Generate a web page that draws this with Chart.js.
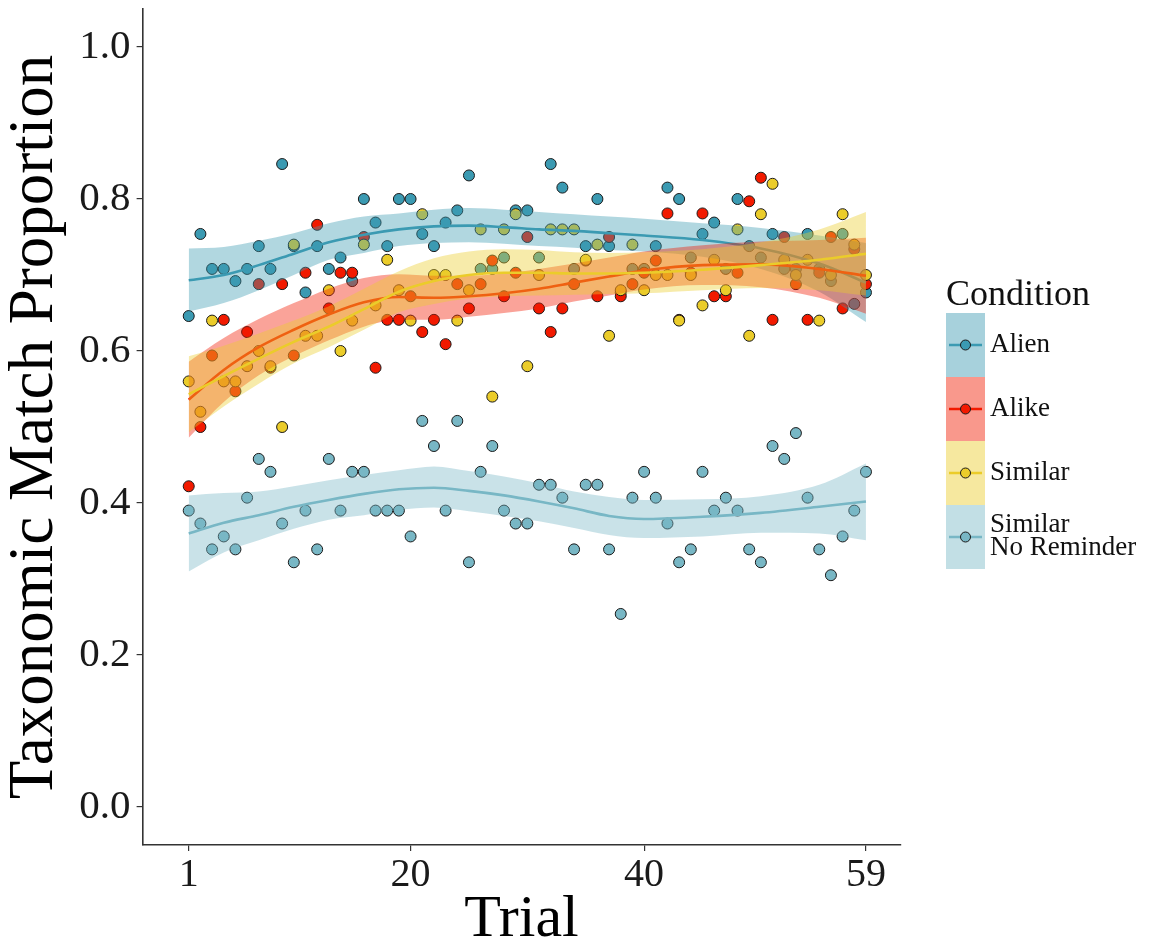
<!DOCTYPE html>
<html>
<head>
<meta charset="utf-8">
<script src="https://cdn.jsdelivr.net/npm/chart.js@4.4.1/dist/chart.umd.min.js"></script>
<style>
  html, body { margin: 0; padding: 0; background: #fff; }
</style>
</head>
<body>
<canvas id="chart" width="1156" height="942"></canvas>
<script>
// ---- data ----
const trials = [1,2,3,4,5,6,7,8,9,10,11,12,13,14,15,16,17,18,19,20,
  21,22,23,24,25,26,27,28,29,30,31,32,33,34,35,36,37,38,39,40,
  41,42,43,44,45,46,47,48,49,50,51,52,53,54,55,56,57,58,59];

const alien = [0.646,0.754,0.708,0.708,0.692,0.708,0.738,0.708,0.846,0.738,
  0.677,0.738,0.708,0.723,0.692,0.800,0.769,0.738,0.800,0.800,
  0.754,0.738,0.769,0.785,0.831,0.708,0.708,0.723,0.785,0.785,
  0.723,0.846,0.815,0.708,0.738,0.800,0.738,0.677,0.708,0.708,
  0.738,0.815,0.800,0.723,0.754,0.769,0.708,0.800,0.738,0.723,
  0.754,0.708,0.708,0.754,0.708,0.692,0.754,0.662,0.677];

const alike = [0.422,0.500,0.594,0.641,0.547,0.625,0.688,0.578,0.688,0.594,
  0.703,0.766,0.656,0.703,0.703,0.750,0.578,0.641,0.641,0.672,
  0.625,0.641,0.609,0.688,0.656,0.688,0.719,0.672,0.703,0.750,
  0.656,0.625,0.656,0.688,0.719,0.672,0.750,0.672,0.688,0.703,
  0.719,0.781,0.641,0.703,0.781,0.672,0.672,0.703,0.797,0.828,
  0.641,0.750,0.688,0.641,0.703,0.750,0.656,0.734,0.688];

const similar = [0.56,0.52,0.64,0.56,0.56,0.58,0.60,0.58,0.50,0.74,
  0.62,0.62,0.68,0.60,0.64,0.74,0.66,0.72,0.68,0.64,
  0.78,0.70,0.70,0.64,0.68,0.76,0.54,0.76,0.78,0.58,
  0.70,0.76,0.76,0.76,0.72,0.74,0.62,0.68,0.74,0.68,
  0.70,0.70,0.64,0.70,0.66,0.72,0.68,0.76,0.62,0.78,
  0.82,0.72,0.70,0.72,0.64,0.70,0.78,0.74,0.70];

const similarNoReminder = [0.390,0.373,0.339,0.356,0.339,0.407,0.458,0.441,0.373,0.322,
  0.390,0.339,0.458,0.390,0.441,0.441,0.390,0.390,0.390,0.356,
  0.508,0.475,0.390,0.508,0.322,0.441,0.475,0.390,0.373,0.373,
  0.424,0.424,0.407,0.339,0.424,0.424,0.339,0.254,0.407,0.441,
  0.407,0.373,0.322,0.339,0.441,0.390,0.407,0.390,0.339,0.322,
  0.475,0.458,0.492,0.407,0.339,0.305,0.356,0.390,0.441];

// loess fits and their confidence bands, read at these trials
const fitTrials = [1,4,7,10,13,16,19,22,25,28,31,34,37,40,45,50,55,59];

const alienFit = [0.693,0.700,0.713,0.728,0.743,0.753,0.760,0.764,0.765,0.763,0.760,0.758,0.755,0.752,0.746,0.735,0.715,0.690];
const alienHi  = [0.735,0.737,0.745,0.755,0.768,0.777,0.781,0.786,0.788,0.786,0.783,0.780,0.777,0.774,0.768,0.762,0.752,0.742];
const alienLo  = [0.652,0.663,0.680,0.700,0.720,0.729,0.738,0.742,0.743,0.741,0.738,0.736,0.733,0.731,0.724,0.708,0.678,0.638];

const alikeFit = [0.536,0.575,0.605,0.628,0.648,0.664,0.671,0.670,0.672,0.676,0.682,0.690,0.698,0.706,0.713,0.714,0.708,0.699];
const alikeHi  = [0.586,0.617,0.642,0.663,0.682,0.696,0.701,0.699,0.699,0.702,0.708,0.715,0.723,0.731,0.739,0.744,0.746,0.749];
const alikeLo  = [0.486,0.533,0.568,0.593,0.614,0.632,0.641,0.641,0.645,0.650,0.656,0.665,0.673,0.681,0.687,0.684,0.670,0.649];

const similarFit = [0.543,0.567,0.590,0.612,0.632,0.655,0.678,0.692,0.700,0.703,0.703,0.702,0.702,0.703,0.707,0.713,0.720,0.728];
const similarHi  = [0.593,0.607,0.623,0.640,0.659,0.682,0.705,0.722,0.731,0.734,0.733,0.730,0.729,0.730,0.734,0.743,0.760,0.783];
const similarLo  = [0.493,0.527,0.557,0.584,0.605,0.628,0.651,0.662,0.669,0.672,0.673,0.674,0.675,0.676,0.680,0.683,0.680,0.673];

const snrFit = [0.360,0.374,0.384,0.395,0.404,0.412,0.418,0.420,0.416,0.410,0.402,0.393,0.383,0.379,0.382,0.387,0.395,0.402];
const snrHi  = [0.410,0.413,0.415,0.422,0.430,0.437,0.443,0.448,0.442,0.435,0.426,0.415,0.408,0.404,0.405,0.409,0.424,0.452];
const snrLo  = [0.310,0.335,0.351,0.366,0.378,0.384,0.391,0.394,0.389,0.383,0.376,0.367,0.358,0.354,0.356,0.361,0.360,0.351];

const xTicks = [1, 20, 40, 59];
const yTicks = [0, 0.2, 0.4, 0.6, 0.8, 1.0];

const conditions = ['Alien', 'Alike', 'Similar', 'Similar\nNo Reminder'];
const colors = ['#3B9AB2', '#F21A00', '#EBCC2A', '#78B7C5'];

// ---- helpers ----
const serif = "'Liberation Serif', 'DejaVu Serif', serif";

function rgba(hex, a) {
    const n = parseInt(hex.slice(1), 16);
    return `rgba(${(n >> 16) & 255},${(n >> 8) & 255},${n & 255},${a})`;
}

function pts(xs, ys) {
    return xs.map((x, i) => ({ x: x, y: ys[i] }));
}

const rawSeries = [alien, alike, similar, similarNoReminder];
const fits = [
    { fit: alienFit, lo: alienLo, hi: alienHi },
    { fit: alikeFit, lo: alikeLo, hi: alikeHi },
    { fit: similarFit, lo: similarLo, hi: similarHi },
    { fit: snrFit, lo: snrLo, hi: snrHi }
];

// ---- datasets: points at the bottom, then ribbon + line per condition ----
const datasets = [];

rawSeries.forEach((vals, i) => {
    datasets.push({
        label: conditions[i],
        data: pts(trials, vals),
        showLine: false,
        pointRadius: 5.5,
        pointBackgroundColor: colors[i],
        pointBorderColor: '#1a1a1a',
        pointBorderWidth: 1,
        order: 40 - i
    });
});

fits.forEach((f, i) => {
    const base = 30 - i * 3;
    const smooth = { tension: 0.4, cubicInterpolationMode: 'monotone', pointRadius: 0 };
    // lower bound (invisible)
    datasets.push(Object.assign({
        data: pts(fitTrials, f.lo),
        borderWidth: 0,
        borderColor: 'rgba(0,0,0,0)',
        fill: false,
        order: base
    }, smooth));
    // upper bound, filled down to the lower bound
    datasets.push(Object.assign({
        data: pts(fitTrials, f.hi),
        borderWidth: 0,
        borderColor: 'rgba(0,0,0,0)',
        backgroundColor: rgba(colors[i], 0.4),
        fill: '-1',
        order: base - 1
    }, smooth));
    // fitted line
    datasets.push(Object.assign({
        data: pts(fitTrials, f.fit),
        borderColor: colors[i],
        borderWidth: 2.6,
        fill: false,
        order: base - 2
    }, smooth));
});

// ---- legend drawn like the ggplot key ----
const conditionLegend = {
    id: 'conditionLegend',
    afterDraw(chart) {
        const ctx = chart.ctx;
        ctx.save();
        ctx.fillStyle = '#111';
        ctx.font = `36px ${serif}`;
        ctx.textBaseline = 'alphabetic';
        ctx.textAlign = 'left';
        ctx.fillText('Condition', 946, 305);

        conditions.forEach((name, i) => {
            const top = 313 + i * 64;
            const cy = top + 32;
            ctx.fillStyle = rgba(colors[i], 0.45);
            ctx.fillRect(946, top, 39, 64);

            ctx.strokeStyle = colors[i];
            ctx.lineWidth = 2.6;
            ctx.beginPath();
            ctx.moveTo(949, cy);
            ctx.lineTo(982, cy);
            ctx.stroke();

            ctx.beginPath();
            ctx.arc(965.5, cy, 5, 0, Math.PI * 2);
            ctx.fillStyle = colors[i];
            ctx.fill();
            ctx.lineWidth = 1;
            ctx.strokeStyle = '#1a1a1a';
            ctx.stroke();

            ctx.fillStyle = '#111';
            ctx.font = `27px ${serif}`;
            ctx.textBaseline = 'middle';
            const lines = name.split('\n');
            if (lines.length === 1) {
                ctx.fillText(lines[0], 990, cy);
            } else {
                ctx.fillText(lines[0], 990, cy - 12);
                ctx.fillText(lines[1], 990, cy + 11);
            }
        });
        ctx.restore();
    }
};

// ---- chart ----
new Chart(document.getElementById('chart'), {
    type: 'line',
    data: { datasets: datasets },
    options: {
        responsive: false,
        devicePixelRatio: 1,
        animation: false,
        events: [],
        layout: { padding: { left: 0, right: 255.6, top: 9, bottom: 0 } },
        plugins: {
            legend: { display: false },
            tooltip: { enabled: false },
            filler: { drawTime: 'beforeDatasetDraw' }
        },
        scales: {
            x: {
                type: 'linear',
                min: -2.95,
                max: 61.95,
                afterBuildTicks: s => { s.ticks = xTicks.map(v => ({ value: v })); },
                afterFit: s => {
                    s.height = 97;
                    s.paddingLeft = 0;
                    s.paddingRight = 0;
                },
                grid: { display: true, drawOnChartArea: false, drawTicks: true, tickLength: 6, color: '#333', lineWidth: 1.2 },
                border: { display: true, color: '#333', width: 1.6 },
                ticks: {
                    font: { family: serif, size: 40 },
                    color: '#1a1a1a',
                    padding: 0,
                    maxRotation: 0,
                    autoSkip: false,
                    callback: v => String(v)
                },
                title: {
                    display: true,
                    text: 'Trial',
                    color: '#000',
                    font: { family: serif, size: 60, lineHeight: 0.72 },
                    padding: 0
                }
            },
            y: {
                type: 'linear',
                min: -0.05,
                max: 1.05,
                afterBuildTicks: s => { s.ticks = yTicks.map(v => ({ value: v })); },
                afterFit: s => {
                    s.width = 142.6;
                    s.paddingTop = 0;
                    s.paddingBottom = 0;
                },
                grid: { display: true, drawOnChartArea: false, drawTicks: true, tickLength: 6, color: '#333', lineWidth: 1.2 },
                border: { display: true, color: '#333', width: 1.6 },
                ticks: {
                    font: { family: serif, size: 41 },
                    color: '#1a1a1a',
                    padding: 6,
                    callback: v => v.toFixed(1)
                },
                title: {
                    display: true,
                    text: 'Taxonomic Match Proportion',
                    color: '#000',
                    font: { family: serif, size: 63, lineHeight: 1.0 },
                    padding: { top: 4, bottom: 0 }
                }
            }
        }
    },
    plugins: [conditionLegend]
});
</script>
</body>
</html>
